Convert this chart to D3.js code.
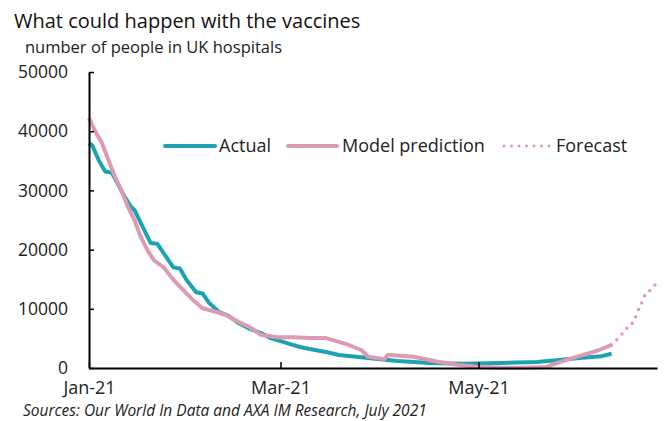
<!DOCTYPE html>
<html>
<head>
<meta charset="utf-8">
<script src="https://cdn.jsdelivr.net/npm/d3@7"></script>
<style>
  html, body { margin: 0; padding: 0; background: #fff; }
  svg { display: block; font-family: "Open Sans", "Noto Sans", sans-serif; }
</style>
</head>
<body>
<svg id="chart" width="664" height="421"></svg>
<script>
// Patients in UK hospitals, 2021
const actualDates = ["2021-01-18","2021-01-19","2021-01-21","2021-01-23","2021-01-25","2021-01-29","2021-01-31","2021-02-01","2021-02-06","2021-02-08","2021-02-13","2021-02-15","2021-02-17","2021-02-20","2021-02-22","2021-02-24","2021-02-27","2021-03-02","2021-03-05","2021-03-08","2021-03-12","2021-03-15","2021-03-17","2021-03-20","2021-03-24","2021-03-27","2021-04-01","2021-04-05","2021-04-14","2021-04-23","2021-05-03","2021-05-13","2021-05-25","2021-06-05","2021-06-12","2021-06-18","2021-06-25","2021-06-28"];
const actualValues = [38000,37600,35100,33200,33000,28900,27200,26700,21100,21000,17000,16800,14900,12800,12600,11000,9500,8800,7600,6750,5900,5050,4700,4200,3550,3200,2700,2200,1700,1200,850,700,850,1000,1350,1700,2000,2400];

const modelDates = ["2021-01-18","2021-01-20","2021-01-22","2021-01-24","2021-01-26","2021-01-28","2021-01-30","2021-02-01","2021-02-03","2021-02-05","2021-02-07","2021-02-10","2021-02-13","2021-02-16","2021-02-19","2021-02-22","2021-02-26","2021-03-01","2021-03-05","2021-03-09","2021-03-12","2021-03-17","2021-03-22","2021-03-27","2021-04-01","2021-04-05","2021-04-08","2021-04-12","2021-04-14","2021-04-19","2021-04-20","2021-04-23","2021-04-28","2021-05-06","2021-05-12","2021-05-18","2021-05-25","2021-05-31","2021-06-08","2021-06-12","2021-06-18","2021-06-24","2021-06-28"];
const modelValues = [42200,39900,38000,35100,32300,30000,27200,25000,22100,19900,18200,17000,14900,13200,11500,10100,9500,9000,7800,6750,5600,5200,5200,5050,5050,4400,3900,3000,1900,1500,2200,2100,1900,1000,500,170,50,50,170,1000,2000,3000,3900];

const forecastDates = ["2021-06-28","2021-07-01","2021-07-03","2021-07-05","2021-07-06","2021-07-07","2021-07-08","2021-07-10","2021-07-12"];
const forecastValues = [3900,5600,6900,8100,9500,10600,12000,13200,14400];

const yTicks = [0,10000,20000,30000,40000,50000];
const xTickDates = ["2021-01-18","2021-03-18","2021-05-18"];
const seriesNames = ["Actual","Model prediction","Forecast"];

const parse = d3.timeParse("%Y-%m-%d");
const zip = (ds, vs) => ds.map((d, i) => ({ date: parse(d), value: vs[i] }));
const actual = zip(actualDates, actualValues);
const model = zip(modelDates, modelValues);
const forecast = zip(forecastDates, forecastValues);

const teal = "#1ba3b4";
const pink = "#dc9bb0";

const svg = d3.select("#chart");
const plot = { left: 89, right: 657, top: 72, bottom: 368 };

const x = d3.scaleTime()
  .domain([parse("2021-01-18"), parse("2021-07-12")])
  .range([plot.left, plot.right]);
const y = d3.scaleLinear().domain([0, 50000]).range([plot.bottom, plot.top]);

// Titles
svg.append("text").attr("x", 14).attr("y", 28)
  .attr("font-size", 20).attr("fill", "#111")
  .text("What could happen with the vaccines");
svg.append("text").attr("x", 25).attr("y", 53)
  .attr("font-size", 16.5).attr("fill", "#222")
  .text("number  of people in UK hospitals");

// Lines
const line = d3.line().x(d => x(d.date)).y(d => y(d.value));

svg.append("path").datum(actual)
  .attr("fill", "none").attr("stroke", teal).attr("stroke-width", 4)
  .attr("stroke-linejoin", "round").attr("d", line);
svg.append("path").datum(model)
  .attr("fill", "none").attr("stroke", pink).attr("stroke-width", 4)
  .attr("stroke-linejoin", "round").attr("d", line);
svg.append("path").datum(forecast)
  .attr("fill", "none").attr("stroke", pink).attr("stroke-width", 3.5)
  .attr("stroke-linecap", "round").attr("stroke-dasharray", "0,7.5")
  .attr("d", d3.line().x(d => x(d.date)).y(d => y(d.value)).curve(d3.curveMonotoneX));

// Axes
const yAxis = svg.append("g").attr("transform", `translate(${plot.left},0)`)
  .call(d3.axisLeft(y).tickValues(yTicks).tickFormat(d3.format("d"))
    .tickSizeInner(-5).tickSizeOuter(0).tickPadding(21));
const xAxis = svg.append("g").attr("transform", `translate(0,${plot.bottom})`)
  .call(d3.axisBottom(x).tickValues(xTickDates.map(parse))
    .tickFormat(d3.timeFormat("%b-%y"))
    .tickSizeInner(-6).tickSizeOuter(0).tickPadding(13));

[yAxis, xAxis].forEach(g => {
  g.select(".domain").attr("stroke", "#000").attr("stroke-width", 2);
  g.selectAll(".tick line").attr("stroke", "#000").attr("stroke-width", 1.5);
  g.selectAll(".tick text").attr("fill", "#222")
    .attr("font-family", "\"Open Sans\", sans-serif");
});
yAxis.selectAll(".tick text").attr("font-size", 17.5);
xAxis.selectAll(".tick text").attr("font-size", 18);

// Legend
const legend = svg.append("g");
const legendItems = [
  { name: seriesNames[0], x1: 165, x2: 215, tx: 219, color: teal, dash: null },
  { name: seriesNames[1], x1: 288, x2: 337, tx: 342, color: pink, dash: null },
  { name: seriesNames[2], x1: 504, x2: 550, tx: 556, color: pink, dash: "0,7.5" }
];
legendItems.forEach(it => {
  legend.append("line").attr("x1", it.x1).attr("x2", it.x2)
    .attr("y1", 146).attr("y2", 146)
    .attr("stroke", it.color).attr("stroke-width", it.dash ? 3 : 4)
    .attr("stroke-linecap", "round")
    .attr("stroke-dasharray", it.dash);
  legend.append("text").attr("x", it.tx).attr("y", 152)
    .attr("font-size", 18).attr("fill", "#222").text(it.name);
});

// Source note
svg.append("text").attr("x", 23).attr("y", 416)
  .attr("font-size", 15.5).attr("font-style", "italic").attr("fill", "#222")
  .text("Sources: Our World In Data and AXA IM Research, July 2021");
</script>
</body>
</html>
